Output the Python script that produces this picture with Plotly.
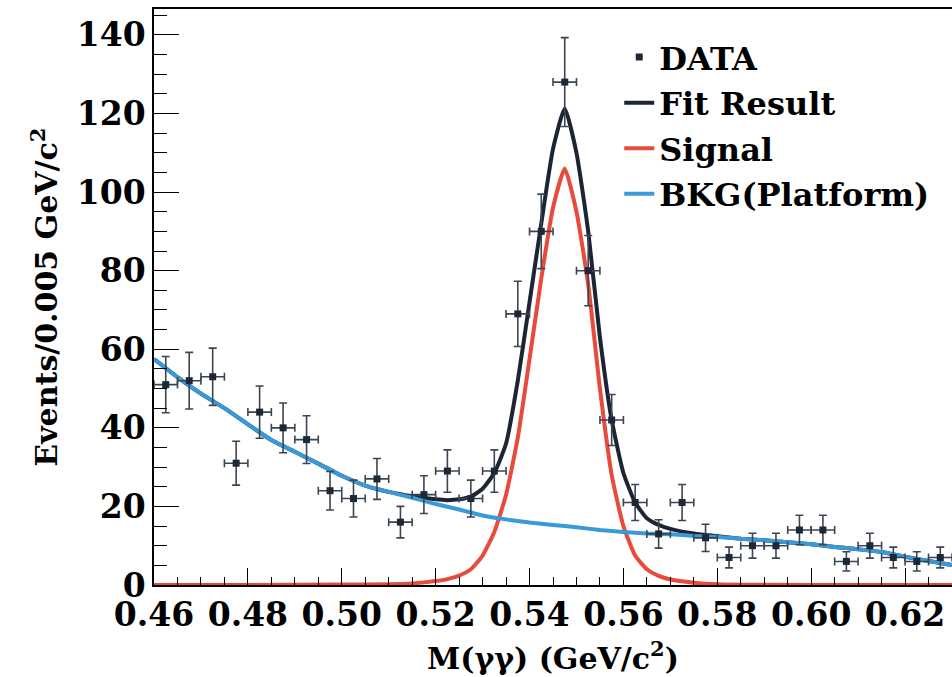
import plotly.graph_objects as go

# ---- data ----
bin_centers = [0.4625, 0.4675, 0.4725, 0.4775, 0.4825, 0.4875, 0.4925, 0.4975,
               0.5025, 0.5075, 0.5125, 0.5175, 0.5225, 0.5275, 0.5325, 0.5375,
               0.5425, 0.5475, 0.5525, 0.5575, 0.5625, 0.5675, 0.5725, 0.5775,
               0.5825, 0.5875, 0.5925, 0.5975, 0.6025, 0.6075, 0.6125, 0.6175,
               0.6225, 0.6275]
counts = [51, 52, 53, 31, 44, 40, 37, 24, 22, 27, 16, 23, 29, 22, 29, 69,
          90, 128, 80, 42, 21, 13, 21, 12, 7, 10, 10, 14, 14, 6, 10, 7, 6, 7]

bkg_x = [0.460, 0.465, 0.470, 0.475, 0.480, 0.485, 0.490, 0.495, 0.500, 0.505,
         0.510, 0.515, 0.520, 0.525, 0.530, 0.535, 0.540, 0.545, 0.550, 0.555,
         0.560, 0.565, 0.570, 0.575, 0.580, 0.585, 0.590, 0.595, 0.600, 0.605,
         0.610, 0.615, 0.620, 0.625, 0.630]
bkg_y = [57.5, 52.9, 48.7, 45.0, 40.9, 36.9, 33.9, 30.9, 27.8, 25.3,
         23.7, 22.2, 20.6, 19.2, 17.7, 16.7, 15.9, 15.3, 14.7, 14.0,
         13.5, 13.1, 12.9, 12.5, 12.2, 11.8, 11.4, 10.9, 10.4, 9.7,
         9.1, 8.4, 7.2, 6.1, 5.1]

sig_x = [0.460, 0.480, 0.500, 0.510, 0.515, 0.520, 0.5225, 0.525, 0.5275, 0.530,
         0.5325, 0.535, 0.5375, 0.540, 0.5425, 0.545, 0.5475, 0.550, 0.5525,
         0.555, 0.5575, 0.560, 0.5625, 0.565, 0.5675, 0.570, 0.575, 0.580,
         0.590, 0.610, 0.630]
sig_y = [0.0, 0.0, 0.1, 0.2, 0.4, 1.0, 1.5, 2.4, 4.0, 7.5,
         13.5, 23.0, 37.5, 57.5, 78.0, 96.0, 106.0, 95.0, 76.5,
         50.0, 28.0, 15.0, 7.5, 4.0, 2.3, 1.4, 0.6, 0.2,
         0.05, 0.0, 0.0]

fit_x = [0.460, 0.465, 0.470, 0.475, 0.480, 0.485, 0.490, 0.495, 0.500, 0.505,
         0.510, 0.515, 0.520, 0.5225, 0.525, 0.5275, 0.530, 0.5325, 0.535,
         0.5375, 0.540, 0.5425, 0.545, 0.5475, 0.550, 0.5525, 0.555, 0.5575,
         0.560, 0.5625, 0.565, 0.5675, 0.570, 0.575, 0.580, 0.585, 0.590,
         0.595, 0.600, 0.605, 0.610, 0.615, 0.620, 0.625, 0.630]
fit_y = [57.5, 52.9, 48.7, 45.0, 40.9, 36.9, 33.9, 30.9, 27.8, 25.3,
         23.7, 22.6, 21.8, 21.6, 21.8, 22.5, 24.5, 28.5, 36.0,
         52.0, 72.0, 92.0, 111.0, 121.3, 110.0, 90.0, 63.0, 42.0,
         28.5, 21.0, 17.0, 15.3, 14.3, 13.1, 12.4, 11.8, 11.4,
         10.9, 10.4, 9.7, 9.1, 8.4, 7.2, 6.1, 5.1]

x_ticks = [0.46, 0.48, 0.50, 0.52, 0.54, 0.56, 0.58, 0.60, 0.62]
x_ticklabels = ["0.46", "0.48", "0.50", "0.52", "0.54", "0.56", "0.58", "0.60", "0.62"]
y_ticks = [0, 20, 40, 60, 80, 100, 120, 140]

# ---- styles ----
FONT = "DejaVu Serif"
C_DATA = "#1d2836"
C_ERR = "#3c4652"
C_FIT = "#1c2533"
C_SIG = "#e84a3b"
C_BKG = "#3a9ad9"

fig = go.Figure()

fig.add_trace(go.Scatter(
    x=fit_x, y=fit_y, mode="lines", name="Fit Result", legendgroup="fit",
    line=dict(color=C_FIT, width=4, shape="spline", smoothing=0.5),
    legendrank=2))
fig.add_trace(go.Scatter(
    x=sig_x, y=sig_y, mode="lines", name="Signal", legendgroup="sig",
    line=dict(color=C_SIG, width=4, shape="spline", smoothing=0.5),
    legendrank=3))
fig.add_trace(go.Scatter(
    x=bkg_x, y=bkg_y, mode="lines", name="BKG(Platform)", legendgroup="bkg",
    line=dict(color=C_BKG, width=4, shape="spline", smoothing=0.5),
    legendrank=4))
fig.add_trace(go.Scatter(
    x=bin_centers, y=counts, mode="markers", name="DATA", legendgroup="data",
    marker=dict(symbol="square", size=7, color=C_DATA),
    error_y=dict(type="sqrt", color=C_ERR, thickness=1.6, width=4),
    error_x=dict(type="constant", value=0.0025, color=C_ERR, thickness=1.6, width=4),
    legendrank=1))

axis_font = dict(family=FONT, size=33, color="black", weight="bold")
title_font = dict(family=FONT, size=30, color="black", weight="bold")

fig.update_layout(
    width=952, height=677,
    margin=dict(l=154, r=0, t=9, b=92, autoexpand=False),
    paper_bgcolor="white", plot_bgcolor="white",
    showlegend=True,
    legend=dict(
        x=0.583, y=0.964, xanchor="left", yanchor="top",
        bgcolor="rgba(0,0,0,0)",
        font=dict(family=FONT, size=32, color="black", weight="bold"),
        itemwidth=30, tracegroupgap=1,
    ),
    xaxis=dict(
        range=[0.46, 0.63], showgrid=False, zeroline=False, automargin=False,
        showline=True, linecolor="black", linewidth=1.5, mirror=True,
        ticks="inside", ticklen=17, tickwidth=1.3, tickcolor="black",
        tickvals=x_ticks, ticktext=x_ticklabels,
        minor=dict(ticks="inside", ticklen=8, dtick=0.005, tick0=0.46,
                   tickcolor="black", tickwidth=1.3, showgrid=False),
        tickfont=axis_font,
    ),
    yaxis=dict(
        range=[0, 146.6], showgrid=False, zeroline=False, automargin=False,
        showline=True, linecolor="black", linewidth=1.5, mirror=True,
        ticks="inside", ticklen=25, tickwidth=1.3, tickcolor="black",
        tickvals=y_ticks,
        minor=dict(ticks="inside", ticklen=13, dtick=5, tick0=0,
                   tickcolor="black", tickwidth=1.3, showgrid=False),
        tickfont=axis_font,
    ),
    annotations=[
        dict(text="M(γγ) (GeV/c<sup>2</sup>)", font=title_font, showarrow=False,
             xref="paper", yref="paper", x=0.5, y=-0.123,
             xanchor="center", yanchor="middle"),
        dict(text="Events/0.005 GeV/c<sup>2</sup>", font=title_font, showarrow=False,
             xref="paper", yref="paper", x=-0.137, y=0.5, textangle=-90,
             xanchor="center", yanchor="middle"),
    ],
)

fig.write_html("out.html", config={"displayModeBar": False},
               post_script="document.body.style.margin='0';document.body.style.overflow='hidden';")
